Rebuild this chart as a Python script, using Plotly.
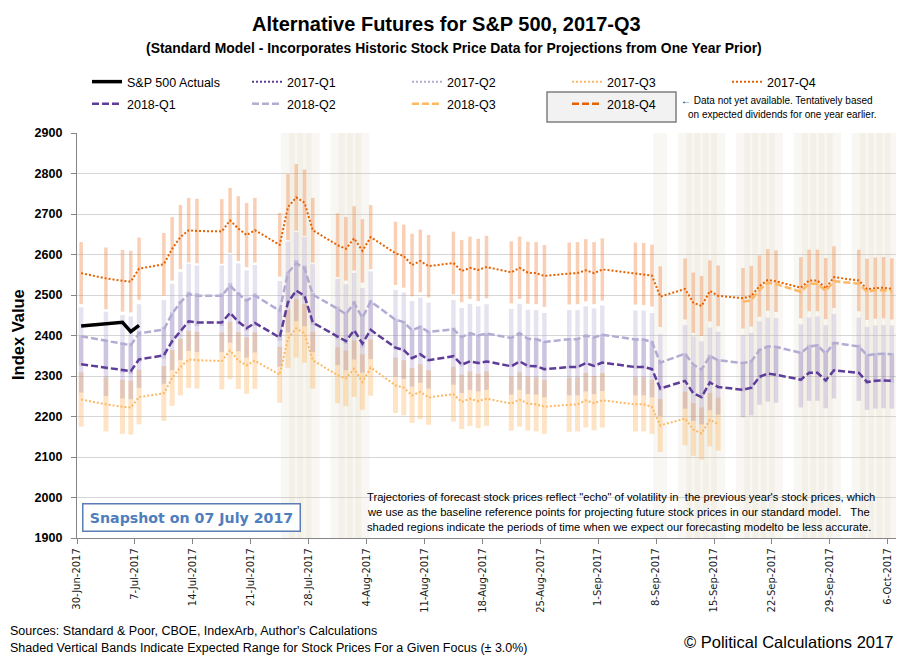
import pandas as pd
import plotly.graph_objects as go

# ---------------- data ----------------
dates = [
    "2017-06-30", "2017-07-03", "2017-07-05", "2017-07-06", "2017-07-07",
    "2017-07-10", "2017-07-11", "2017-07-12", "2017-07-13", "2017-07-14",
    "2017-07-17", "2017-07-18", "2017-07-19", "2017-07-20", "2017-07-21",
    "2017-07-24", "2017-07-25", "2017-07-26", "2017-07-27", "2017-07-28",
    "2017-07-31", "2017-08-01", "2017-08-02", "2017-08-03", "2017-08-04",
    "2017-08-07", "2017-08-08", "2017-08-09", "2017-08-10", "2017-08-11",
    "2017-08-14", "2017-08-15", "2017-08-16", "2017-08-17", "2017-08-18",
    "2017-08-21", "2017-08-22", "2017-08-23", "2017-08-24", "2017-08-25",
    "2017-08-28", "2017-08-29", "2017-08-30", "2017-08-31", "2017-09-01",
    "2017-09-05", "2017-09-06", "2017-09-07", "2017-09-08",
    "2017-09-11", "2017-09-12", "2017-09-13", "2017-09-14", "2017-09-15",
    "2017-09-18", "2017-09-19", "2017-09-20", "2017-09-21", "2017-09-22",
    "2017-09-25", "2017-09-26", "2017-09-27", "2017-09-28", "2017-09-29",
    "2017-10-02", "2017-10-03", "2017-10-04", "2017-10-05", "2017-10-06",
]

actual_dates = ["2017-06-30", "2017-07-03", "2017-07-05", "2017-07-06", "2017-07-07"]
actual_values = [2423.41, 2429.01, 2432.54, 2409.75, 2425.18]

q4_2017 = [
    2554, 2541, 2535, 2533, 2565,
    2576, 2614, 2643, 2660, 2658,
    2657, 2684, 2664, 2648, 2660,
    2624, 2717, 2741, 2728, 2660,
    2623, 2614, 2640, 2609, 2643,
    2603, 2596, 2574, 2584, 2571,
    2579, 2559, 2567, 2562, 2569,
    2556, 2567, 2555, 2554, 2547,
    2553, 2554, 2561, 2554, 2563,
    2553, 2552, 2548, 2496,
    2515, 2481, 2473, 2510, 2498,
    2492, 2497, 2522, 2537, 2534,
    2518, 2536, 2536, 2516, 2544,
    2536, 2514, 2517, 2518, 2515,
]

q2_2018 = [
    2398, 2387, 2379, 2376, 2405,
    2415, 2454, 2482, 2502, 2498,
    2498, 2523, 2503, 2486, 2499,
    2461, 2555, 2578, 2566, 2501,
    2466, 2453, 2480, 2444, 2484,
    2439, 2433, 2413, 2421, 2409,
    2415, 2396, 2406, 2400, 2405,
    2394, 2406, 2392, 2391, 2384,
    2391, 2391, 2400, 2395, 2402,
    2390, 2390, 2384, 2333,
    2355, 2328, 2316, 2349, 2339,
    2332, 2336, 2364, 2373, 2372,
    2357, 2373, 2376, 2355, 2382,
    2373, 2351, 2354, 2355, 2354,
]

q1_2018 = [
    2329, 2320, 2314, 2312, 2341,
    2351, 2386, 2412, 2435, 2432,
    2432, 2456, 2434, 2418, 2431,
    2395, 2482, 2511, 2498, 2432,
    2399, 2386, 2413, 2380, 2414,
    2370, 2364, 2344, 2354, 2339,
    2349, 2328, 2336, 2332, 2336,
    2324, 2336, 2325, 2324, 2317,
    2322, 2322, 2332, 2325, 2333,
    2322, 2322, 2317, 2269,
    2288, 2257, 2248, 2284, 2273,
    2266, 2271, 2298, 2306, 2303,
    2291, 2308, 2308, 2289, 2314,
    2308, 2285, 2288, 2289, 2288,
]

q3_2017 = [
    2242, 2230, 2224, 2222, 2248,
    2257, 2295, 2322, 2341, 2339,
    2337, 2363, 2338, 2326, 2338,
    2303, 2392, 2418, 2405, 2339,
    2302, 2294, 2318, 2285, 2321,
    2277, 2271, 2252, 2261, 2247,
    2255, 2236, 2244, 2238, 2244,
    2232, 2242, 2232, 2230, 2224,
    2229, 2230, 2240, 2233, 2240,
    2230, 2230, 2224, 2178,
    2195, 2168, 2158, 2192, 2181,
    None, None, None, None, None,
    None, None, None, None, None,
    None, None, None, None, None,
]

q3_2018 = [None] * 54 + [
    2483, 2487, 2513, 2530, 2527,
    2508, 2528, 2528, 2510, 2534,
    2528, 2508, 2512, 2512, 2510,
]

shaded_days = [
    "2017-07-25", "2017-07-26", "2017-07-27", "2017-07-28",
    "2017-07-31", "2017-08-01", "2017-08-02", "2017-08-03",
    "2017-09-08",
    "2017-09-11", "2017-09-12", "2017-09-13", "2017-09-14", "2017-09-15",
    "2017-09-18", "2017-09-19", "2017-09-20", "2017-09-21", "2017-09-22",
    "2017-09-25", "2017-09-26", "2017-09-27", "2017-09-28", "2017-09-29",
    "2017-10-02", "2017-10-03", "2017-10-04", "2017-10-05", "2017-10-06",
]

band_pct = 3.0
y_min, y_max = 1900, 2900

# ---------------- styling ----------------
SANS = "Liberation Sans, Arial, sans-serif"
DARK_PURPLE = "#5e3c99"
LIGHT_PURPLE = "#b2abd2"
LIGHT_ORANGE = "#fdb863"
DARK_ORANGE = "#e66101"
DAY_MS = 86400000

half_day = pd.Timedelta(hours=12)
x = pd.to_datetime(dates) + half_day
xa = pd.to_datetime(actual_dates) + half_day
xs = pd.to_datetime(shaded_days) + half_day

fig = go.Figure()

# shaded "less accurate" regions
fig.add_trace(go.Bar(
    x=xs, y=[y_max - y_min] * len(xs), base=y_min,
    width=1.7 * DAY_MS,
    marker=dict(color="rgba(210,200,170,0.14)", line=dict(width=0)),
    showlegend=False, hoverinfo="skip",
))


def band(vals, color, thick):
    fig.add_trace(go.Scatter(
        x=x, y=vals, mode="markers",
        marker=dict(size=1, color="rgba(0,0,0,0)"),
        error_y=dict(type="percent", value=band_pct, color=color,
                     thickness=thick, width=0),
        showlegend=False, hoverinfo="skip",
    ))


band(q3_2017, "rgba(253,184,99,0.38)", 5)
band(q4_2017, "rgba(240,130,60,0.38)", 3.5)
band(q2_2018, "rgba(178,171,210,0.33)", 4.5)
band(q1_2018, "rgba(94,60,153,0.18)", 4.5)

DOT = "2px,2px"
DASH = "7px,3px"

# legend row 1
fig.add_trace(go.Scatter(x=xa, y=actual_values, mode="lines", name="S&P 500 Actuals",
                         line=dict(color="black", width=3.5), legend="legend"))
fig.add_trace(go.Scatter(x=[None], y=[None], mode="lines", name="2017-Q1",
                         line=dict(color=DARK_PURPLE, width=2, dash=DOT), legend="legend"))
fig.add_trace(go.Scatter(x=[None], y=[None], mode="lines", name="2017-Q2",
                         line=dict(color=LIGHT_PURPLE, width=2, dash=DOT), legend="legend"))
fig.add_trace(go.Scatter(x=x, y=q3_2017, mode="lines", name="2017-Q3",
                         line=dict(color=LIGHT_ORANGE, width=2, dash=DOT), legend="legend"))
fig.add_trace(go.Scatter(x=x, y=q4_2017, mode="lines", name="2017-Q4",
                         line=dict(color=DARK_ORANGE, width=2, dash=DOT), legend="legend"))
# legend row 2
fig.add_trace(go.Scatter(x=x, y=q1_2018, mode="lines", name="2018-Q1",
                         line=dict(color=DARK_PURPLE, width=2.5, dash=DASH), legend="legend2"))
fig.add_trace(go.Scatter(x=x, y=q2_2018, mode="lines", name="2018-Q2",
                         line=dict(color=LIGHT_PURPLE, width=2.5, dash=DASH), legend="legend2"))
fig.add_trace(go.Scatter(x=x, y=q3_2018, mode="lines", name="2018-Q3",
                         line=dict(color=LIGHT_ORANGE, width=2.5, dash=DASH), legend="legend2"))
fig.add_trace(go.Scatter(x=[None], y=[None], mode="lines", name="2018-Q4",
                         line=dict(color=DARK_ORANGE, width=2.5, dash=DASH), legend="legend2"))

W, H = 911, 662
L, R, T, B = 77, 15, 133, 124
PW, PH = W - L - R, H - T - B


def px(xp):
    return (xp - L) / PW


def py(yp):
    return (H - B - yp) / PH


legend_common = dict(orientation="h", xanchor="left", yanchor="middle",
                     bgcolor="rgba(0,0,0,0)", borderwidth=0,
                     font=dict(family=SANS, size=12.5, color="#000"),
                     entrywidth=115, entrywidthmode="pixels",
                     itemclick=False, itemdoubleclick=False, tracegroupgap=0)

fig.update_layout(
    width=W, height=H,
    margin=dict(l=L, r=R, t=T, b=B, autoexpand=False),
    paper_bgcolor="white", plot_bgcolor="white",
    barmode="overlay",
    legend=dict(x=px(87), y=py(82), **legend_common),
    legend2=dict(x=px(87), y=py(104), **legend_common),
    xaxis=dict(
        type="date", range=["2017-06-30", "2017-10-07"],
        tick0="2017-06-30", dtick=7 * DAY_MS, tickformat="%-d-%b-%Y",
        tickangle=-90, ticks="outside", ticklen=5, tickcolor="#868686",
        showline=True, linecolor="#868686", linewidth=1.3, showgrid=False,
        tickfont=dict(family="DejaVu Sans", size=10, color="#1a1a1a"),
        zeroline=False,
    ),
    yaxis=dict(
        range=[y_min, y_max], dtick=100, tick0=1900,
        ticks="outside", ticklen=5, tickcolor="#868686",
        showline=True, linecolor="#868686", linewidth=1.3,
        showgrid=True, gridcolor="#D6D6D6", gridwidth=1,
        tickfont=dict(family=SANS, size=12.5, color="#000", weight="bold"),
        ticklabelstandoff=6,
        zeroline=False,
    ),
    showlegend=True,
)

# box around the 2018-Q4 legend entry
fig.add_shape(type="rect", xref="paper", yref="paper",
              x0=px(547), x1=px(676), y0=py(122), y1=py(92),
              fillcolor="#F2F2F2", line=dict(color="#7F7F7F", width=1.5), layer="below")

ann = []
ann.append(dict(text="<b>Alternative Futures for S&P 500, 2017-Q3</b>", x=px(446), y=py(24),
                font=dict(family=SANS, size=20, color="#000")))
ann.append(dict(text="<b>(Standard Model - Incorporates Historic Stock Price Data for Projections from One Year Prior)</b>",
                x=px(454), y=py(48), font=dict(family=SANS, size=13.9, color="#000")))
ann.append(dict(text="<b>Index Value</b>", x=px(18), y=py(335), textangle=-90,
                font=dict(family=SANS, size=16.5, color="#000")))
ann.append(dict(text="\u2190 Data not yet available. Tentatively based", x=px(679), y=py(101),
                xanchor="left", font=dict(family=SANS, size=10, color="#000")))
ann.append(dict(text="on expected dividends for one year earlier.", x=px(686), y=py(115),
                xanchor="left", font=dict(family=SANS, size=10, color="#000")))
ann.append(dict(text="<b>Snapshot on 07 July 2017</b>", x=px(191), y=py(517.5),
                width=214, height=24, borderpad=1, bordercolor="#5A7DB5", borderwidth=1.5,
                bgcolor="white", font=dict(family="DejaVu Sans", size=14.2, color="#4F7EBD")))
block = [
    "Trajectories of forecast stock prices reflect \"echo\" of volatility in  the previous year's stock prices, which",
    "we use as the baseline reference points for projecting future stock prices in our standard model.   The",
    "shaded regions indicate the periods of time when we expect our forecasting modelto be less accurate.",
]
for i, line in enumerate(block):
    ann.append(dict(text=line, x=px(365), y=py(497 + 15 * i), xanchor="left",
                    font=dict(family=SANS, size=11.2, color="#000")))
ann.append(dict(text="Sources: Standard & Poor, CBOE, IndexArb, Author's Calculations",
                x=px(8), y=py(631), xanchor="left", font=dict(family=SANS, size=12.5, color="#000")))
ann.append(dict(text="Shaded Vertical Bands Indicate Expected Range for Stock Prices For a Given Focus (\u00b1 3.0%)",
                x=px(8), y=py(648), xanchor="left", font=dict(family=SANS, size=12.5, color="#000")))
ann.append(dict(text="\u00a9 Political Calculations 2017", x=px(895), y=py(642), xanchor="right",
                font=dict(family=SANS, size=16.5, color="#000")))
for a in ann:
    a.setdefault("xanchor", "center")
    a.update(xref="paper", yref="paper", showarrow=False, yanchor="middle")
fig.update_layout(annotations=ann)

fig.write_html("out.html", config={"displayModeBar": False},
               post_script="document.body.style.margin='0px';")
